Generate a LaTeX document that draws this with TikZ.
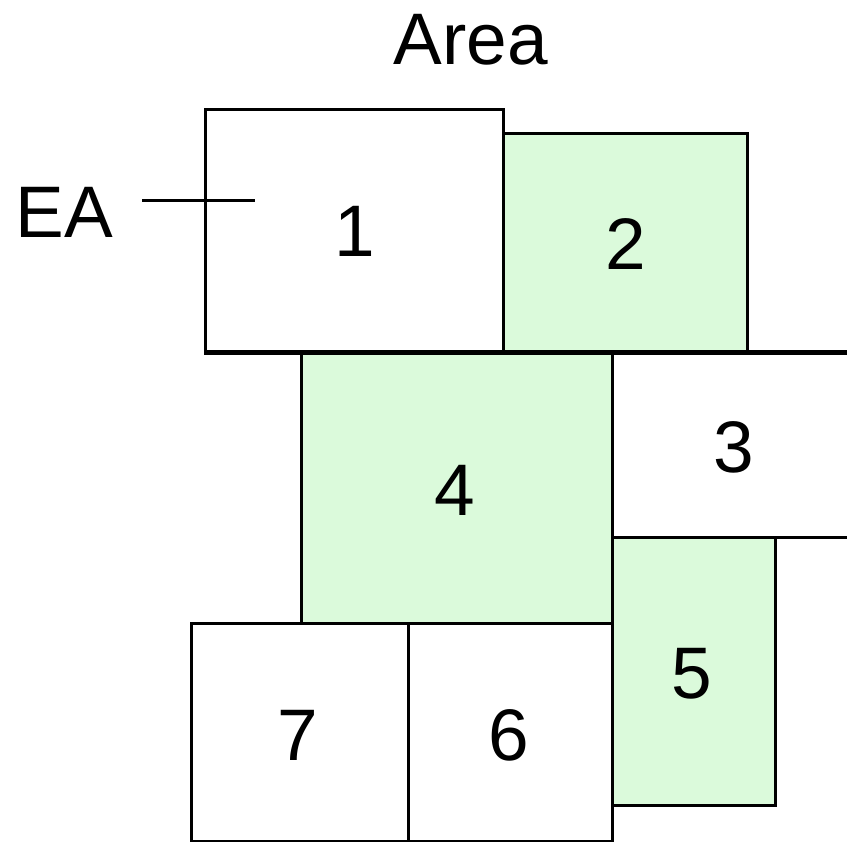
\documentclass[tikz,border=0pt]{standalone}
\usepackage{fontspec}
\setmainfont{Liberation Sans}
\definecolor{palegreen}{HTML}{DBFADB}
\begin{document}
\begin{tikzpicture}[x=1pt,y=-1pt,
  cell/.style={draw=black, line width=3.3pt, rectangle, inner sep=0pt,
    anchor=north west},
  shaded/.style={cell, fill=palegreen},
  plain/.style={cell, fill=white},
  label/.style={font=\fontsize{73}{88}\selectfont, inner sep=0pt}]
\useasboundingbox (0,0) rectangle (847,842);
\clip (0,0) rectangle (847,842);
% upper row
\node[plain, minimum width=298pt, minimum height=244pt] (b1) at (204,108) {};
\node at (b1.center) [label] {1};
\node[shaded, minimum width=244pt, minimum height=220pt] (b2) at (502,132) {};
\node at (b2.center) [label] {2};
% middle band: region 3 runs off the right edge
\node[plain, minimum width=260pt, minimum height=184pt] (b3) at (611,352) {};
\node at (734,447) [label] {3};
\node[shaded, minimum width=311pt, minimum height=270pt] (b4) at (300,352) {};
\node at (455,490) [label] {4};
\node[shaded, minimum width=163pt, minimum height=268pt] (b5) at (611,536) {};
\node at (692,674) [label] {5};
% lower row
\node[plain, minimum width=204pt, minimum height=218pt] (b6) at (407,622) {};
\node at (509,735) [label] {6};
\node[plain, minimum width=217pt, minimum height=218pt] (b7) at (190,622) {};
\node at (298,735) [label] {7};
% shared boundary between the upper row and the middle band
\coordinate (rowL) at (204,352);
\coordinate (rowR) at (860,352);
\draw[line width=3.3pt] (rowL) -- (rowR);
% labels
\node[label] (area) at (471,40) {Area};
\node[label] (ea) at (64,212) {EA};
\coordinate (tickL) at (142,201);
\coordinate (tickR) at (255,201);
\draw[line width=3pt] (tickL) -- (tickR);
\end{tikzpicture}
\end{document}
